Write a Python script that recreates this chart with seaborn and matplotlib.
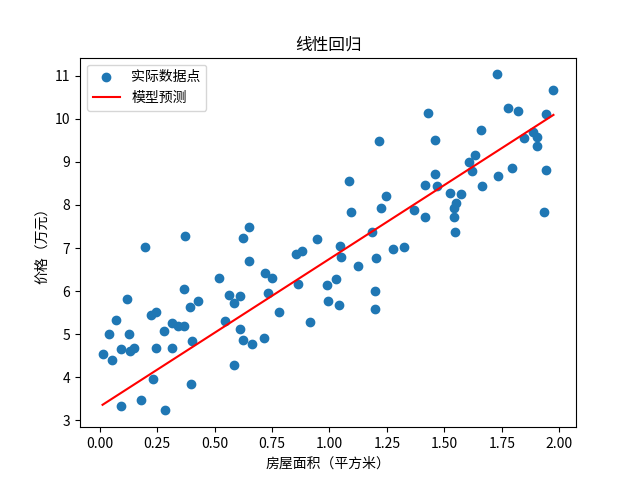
import matplotlib
matplotlib.use("Agg")
import matplotlib.pyplot as plt
import seaborn as sns

plt.rcParams['font.family'] = ['Noto Sans CJK SC', 'DejaVu Sans']
plt.rcParams['axes.unicode_minus'] = False

# 房屋面积（平方米）
area = [
    0.370, 0.197, 0.648, 0.624, 0.649, 0.520, 0.119, 0.367, 0.563, 0.610,
    0.585, 0.428, 0.393, 0.243, 0.222, 0.071, 0.041, 0.127, 0.280, 0.315,
    0.341, 0.367, 0.546, 0.610, 0.624, 0.402, 0.093, 0.148, 0.133, 0.245,
    0.315, 0.014, 0.054, 0.584, 0.232, 0.398, 0.092, 0.179, 0.285,
    1.086, 1.246, 1.226, 1.095, 0.947, 1.186, 0.855, 0.881, 1.047, 1.052,
    1.278, 1.325, 1.204, 1.125, 0.720, 0.751, 0.864, 0.990, 1.030, 1.199,
    0.995, 1.042, 1.200, 0.732, 0.781, 0.916, 0.664, 0.716,
    1.730, 1.975, 1.431, 1.779, 1.822, 1.943, 1.661, 1.461, 1.884, 1.903,
    1.847, 1.905, 1.635, 1.609, 1.619, 1.461, 1.794, 1.733, 1.943, 1.417,
    1.467, 1.666, 1.526, 1.574, 1.552, 1.544, 1.544, 1.548, 1.935, 1.368,
    1.417, 1.217,
]

# 价格（万元）
price = [
    7.27, 7.03, 7.48, 7.24, 6.70, 6.31, 5.81, 6.04, 5.90, 5.88,
    5.73, 5.76, 5.62, 5.52, 5.45, 5.32, 5.01, 5.01, 5.08, 5.27,
    5.19, 5.18, 5.30, 5.11, 4.87, 4.83, 4.66, 4.68, 4.62, 4.67,
    4.69, 4.53, 4.41, 4.28, 3.97, 3.85, 3.34, 3.46, 3.23,
    8.55, 8.20, 7.94, 7.84, 7.22, 7.36, 6.87, 6.92, 7.04, 6.79,
    6.98, 7.03, 6.77, 6.59, 6.43, 6.31, 6.17, 6.13, 6.27, 6.01,
    5.78, 5.68, 5.58, 5.95, 5.52, 5.29, 4.78, 4.90,
    11.03, 10.67, 10.14, 10.26, 10.19, 10.12, 9.74, 9.51, 9.70, 9.58,
    9.56, 9.37, 9.17, 8.99, 8.79, 8.71, 8.85, 8.66, 8.80, 8.47,
    8.45, 8.45, 8.28, 8.26, 8.05, 7.92, 7.71, 7.38, 7.84, 7.89,
    7.73, 9.49,
]

# 模型预测（直线端点）
pred_area = [0.012, 1.975]
pred_price = [3.36, 10.09]

fig, ax = plt.subplots(figsize=(6.4, 4.8), dpi=100)

sns.scatterplot(x=area, y=price, s=36, color='#1f77b4', edgecolor='#1f77b4',
                linewidth=1.0, label='实际数据点', ax=ax)
sns.lineplot(x=pred_area, y=pred_price, color='red', linewidth=1.5,
             label='模型预测', ax=ax)

ax.set_title('线性回归')
ax.set_xlabel('房屋面积（平方米）')
ax.set_ylabel('价格（万元）')
ax.set_xticks([0.0, 0.25, 0.5, 0.75, 1.0, 1.25, 1.5, 1.75, 2.0])
ax.set_xticklabels(['0.00', '0.25', '0.50', '0.75', '1.00', '1.25', '1.50', '1.75', '2.00'])
ax.set_yticks(range(3, 12))
ax.legend(loc='upper left')

fig.savefig('out.png', dpi=100)
